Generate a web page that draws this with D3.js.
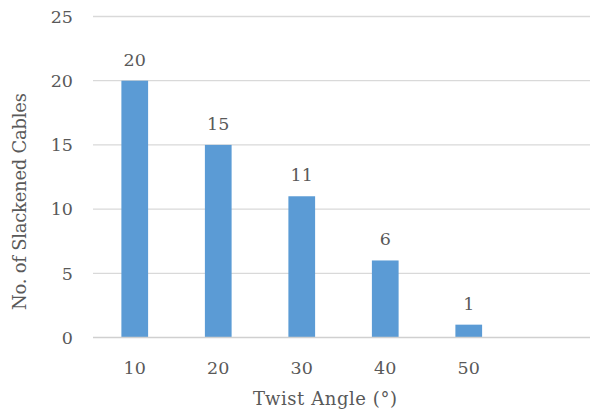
<!DOCTYPE html>
<html>
<head>
<meta charset="utf-8">
<script src="https://cdn.jsdelivr.net/npm/d3@7"></script>
<style>
  html, body { margin: 0; padding: 0; background: #fff; }
</style>
</head>
<body>
<svg id="chart" width="590" height="414" font-family="'DejaVu Serif', serif"></svg>
<script>
// Twist angle categories (one trailing empty slot on the axis)
const categories = ["10", "20", "30", "40", "50", ""];
const angles = ["10", "20", "30", "40", "50"];
const slackened = [20, 15, 11, 6, 1];
const yTicks = [0, 5, 10, 15, 20, 25];

const svg = d3.select("#chart");
const plot = { left: 93, right: 594, top: 16.5, bottom: 337.5 };
const textColor = "#595959";
const fontSize = 17.5;

const x = d3.scaleBand().domain(categories).range([plot.left, plot.right])
  .paddingInner(0.68).paddingOuter(0.34);
const y = d3.scaleLinear().domain([0, 25]).range([plot.bottom, plot.top]);

// horizontal gridlines
svg.append("g").selectAll("line").data(yTicks.filter(d => d > 0)).join("line")
  .attr("x1", plot.left).attr("x2", 590)
  .attr("y1", d => y(d)).attr("y2", d => y(d))
  .attr("stroke", "#d9d9d9").attr("stroke-width", 1.3);

// y tick labels
svg.append("g").selectAll("text").data(yTicks).join("text")
  .attr("x", 73).attr("y", d => y(d)).attr("dy", "0.36em")
  .attr("text-anchor", "end").attr("font-size", fontSize).attr("fill", textColor)
  .text(d => d);

// bars
const data = angles.map((a, i) => ({ a, v: slackened[i] }));
svg.append("g").selectAll("rect").data(data).join("rect")
  .attr("x", d => x(d.a)).attr("width", x.bandwidth())
  .attr("y", d => y(d.v)).attr("height", d => y(0) - y(d.v))
  .attr("fill", "#5b9bd5");

// value labels
svg.append("g").selectAll("text").data(data).join("text")
  .attr("x", d => x(d.a) + x.bandwidth() / 2).attr("y", d => y(d.v) - 15)
  .attr("text-anchor", "middle").attr("font-size", fontSize).attr("fill", textColor)
  .text(d => d.v);

// baseline axis
svg.append("line").attr("x1", plot.left).attr("x2", 590)
  .attr("y1", y(0)).attr("y2", y(0))
  .attr("stroke", "#d0d0d0").attr("stroke-width", 1.3);

// x tick labels
svg.append("g").selectAll("text").data(angles).join("text")
  .attr("x", d => x(d) + x.bandwidth() / 2).attr("y", 374)
  .attr("text-anchor", "middle").attr("font-size", fontSize).attr("fill", textColor)
  .text(d => d);

// axis titles
svg.append("text").attr("x", 325).attr("y", 405)
  .attr("text-anchor", "middle").attr("font-size", 18).attr("fill", textColor)
  .attr("textLength", 144).attr("lengthAdjust", "spacing")
  .text("Twist Angle (°)");

svg.append("text").attr("transform", "translate(26,201.5) rotate(-90)")
  .attr("text-anchor", "middle").attr("font-size", 18).attr("fill", textColor)
  .attr("textLength", 217).attr("lengthAdjust", "spacing")
  .text("No. of Slackened Cables");
</script>
</body>
</html>
